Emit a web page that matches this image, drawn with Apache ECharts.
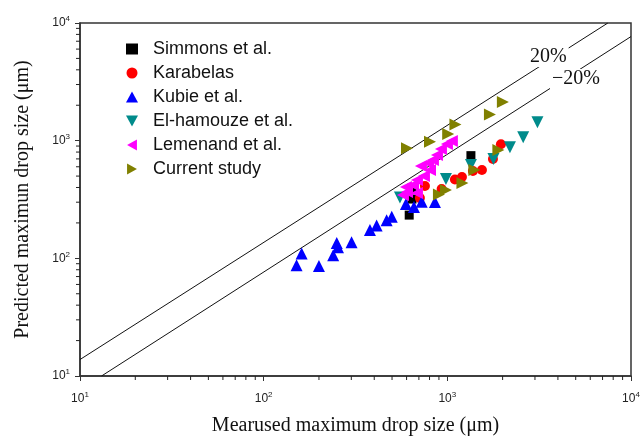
<!DOCTYPE html>
<html>
<head>
<meta charset="utf-8">
<script src="https://cdn.jsdelivr.net/npm/echarts@6/dist/echarts.min.js"></script>
<style>
  html, body { margin: 0; padding: 0; background: #fff; }
  #chart { width: 642px; height: 436px; }
</style>
</head>
<body>
<div id="chart"></div>
<script>
// measured (x) vs predicted (y) maximum drop size, um
const simmons = [[1344, 746], [620, 233], [642, 396], [642, 319]];
const karabelas = [[709, 325], [755, 412], [931, 388], [1100, 468], [1201, 491],
    [1378, 552], [1543, 563], [1771, 699], [1958, 932]];
const kubie = [[151, 87.5], [161, 110], [200, 86], [239, 106], [250, 135], [254, 124],
    [301, 137], [379, 174], [412, 190], [467, 211], [498, 226], [595, 289],
    [658, 273], [725, 303], [856, 301]];
const elHamouze = [[3094, 1434], [2589, 1069], [2192, 879], [1783, 699], [1344, 621],
    [983, 472], [552, 329]];
const lemenand = [[1059, 994], [995, 938], [923, 850], [878, 756], [835, 685],
    [785, 646], [718, 609], [805, 563], [746, 501], [683, 463], [650, 420],
    [595, 404], [603, 366], [683, 359], [573, 345]];
const currentStudy = [[2007, 2135], [1706, 1671], [1107, 1374], [1011, 1140],
    [805, 981], [603, 862], [1897, 834], [1404, 563], [1208, 437], [983, 381],
    [900, 348]];

// error band lines
const upperLine = [[10, 13.8], [7480, 10000]];
const lowerLine = [[13.1, 10], [10000, 7670]];

const minorTicks = [20, 30, 40, 50, 60, 70, 80, 90,
    200, 300, 400, 500, 600, 700, 800, 900,
    2000, 3000, 4000, 5000, 6000, 7000, 8000, 9000];

const chart = echarts.init(document.getElementById("chart"));

const SANS = "Liberation Sans";
const SERIF = "Liberation Serif";

function powLabel(v) {
    return "{b|10}{s|" + Math.round(Math.log10(v)) + "}";
}

const labelRich = {
    b: { fontFamily: SANS, fontSize: 12, color: "#222" },
    s: { fontFamily: SANS, fontSize: 8, color: "#222", padding: [0, 0, 8, 0] }
};

function mainAxis(name, pos, gap, labelMargin) {
    return {
        type: "log",
        logBase: 10,
        min: 10,
        max: 10000,
        position: pos,
        name: name,
        nameLocation: "middle",
        nameGap: gap,
        nameTextStyle: { fontFamily: SERIF, fontSize: 20, color: "#111" },
        axisLine: { show: true, lineStyle: { color: "#333", width: 1.5 } },
        axisTick: { show: true, inside: false, length: 5, lineStyle: { color: "#333" } },
        axisLabel: { show: true, margin: labelMargin, formatter: powLabel, rich: labelRich },
        splitLine: { show: false },
        minorTick: { show: false }
    };
}

// short outward ticks between decades, placed through the axis scale
function minorTickSeries(horizontal) {
    return {
        type: "custom",
        silent: true,
        clip: false,
        z: 5,
        data: minorTicks.map(v => horizontal ? [v, 10] : [10, v]),
        renderItem: function (params, api) {
            const p = api.coord([api.value(0), api.value(1)]);
            const shape = horizontal
                ? { x1: p[0], y1: p[1], x2: p[0], y2: p[1] + 4 }
                : { x1: p[0], y1: p[1], x2: p[0] - 4, y2: p[1] };
            return { type: "line", shape: shape, style: { stroke: "#222", lineWidth: 1 } };
        }
    };
}

function scatter(name, data, symbol, size, color) {
    return {
        name: name,
        type: "scatter",
        data: data,
        symbol: symbol,
        symbolSize: size,
        itemStyle: { color: color, opacity: 1 },
        z: 3
    };
}

chart.setOption({
    animation: false,
    grid: {
        left: 80, right: 11, top: 23, bottom: 60,
        containLabel: false, outerBoundsMode: "none",
        show: true, borderColor: "#333", borderWidth: 1.5, backgroundColor: "transparent"
    },
    legend: {
        orient: "vertical",
        left: 121,
        top: 35,
        itemWidth: 12,
        itemHeight: 11,
        itemGap: 6,
        textStyle: { fontFamily: SANS, fontSize: 18, color: "#111", lineHeight: 17,
            padding: [0, 0, 0, 10] },
        data: ["Simmons et al.", "Karabelas", "Kubie et al.", "El-hamouze et al.",
            "Lemenand et al.", "Current study"]
    },
    xAxis: mainAxis("Mearused maximum drop size (\u03bcm)", "bottom", 40, 15),
    yAxis: mainAxis("Predicted maximun drop size (\u03bcm)", "left", 47, 10),
    graphic: [
        {
            type: "text", left: 528, top: 47, z: 100,
            style: { text: "20%", font: "20px " + SERIF, fill: "#111",
                backgroundColor: "#fff", padding: [0, 2, 0, 2] }
        },
        {
            type: "text", left: 550, top: 69, z: 100,
            style: { text: "\u221220%", font: "20px " + SERIF, fill: "#111",
                backgroundColor: "#fff", padding: [0, 2, 0, 2] }
        }
    ],
    series: [
        { type: "line", data: upperLine, symbol: "none", silent: true, z: 1,
            lineStyle: { color: "#111", width: 1 } },
        { type: "line", data: lowerLine, symbol: "none", silent: true, z: 1,
            lineStyle: { color: "#111", width: 1 } },
        minorTickSeries(true),
        minorTickSeries(false),
        scatter("Simmons et al.", simmons, "rect", 9, "#000000"),
        scatter("Karabelas", karabelas, "circle", 10, "#ff0000"),
        scatter("Kubie et al.", kubie, "triangle", 12, "#0000ff"),
        scatter("El-hamouze et al.", elHamouze, "path://M0,0L10,0L5,9Z", 12, "#008b8b"),
        scatter("Lemenand et al.", lemenand, "path://M9,0L9,10L0,5Z", 12, "#ff00ff"),
        scatter("Current study", currentStudy, "path://M0,0L9,5L0,10Z", 12, "#808000")
    ]
});
</script>
</body>
</html>
